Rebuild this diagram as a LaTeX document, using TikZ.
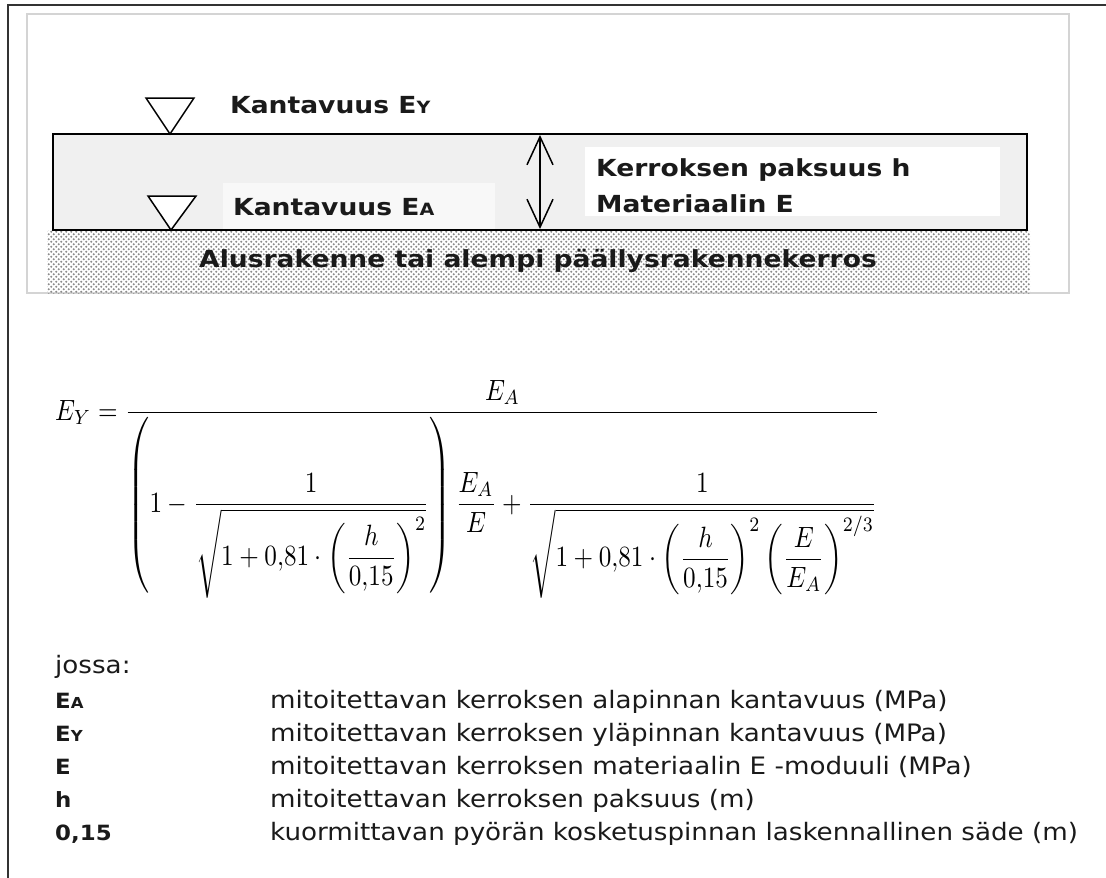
\documentclass[tikz,border=0pt]{standalone}
\usepackage{amsmath}
\usepackage{fontspec}
\newfontfamily\lblfont[FakeStretch=1.13]{DejaVu Sans}
\newfontfamily\legfont[FakeStretch=1.09]{DejaVu Sans}
\usetikzlibrary{patterns,arrows.meta}
\definecolor{layerfill}{HTML}{F0F0F0}
\definecolor{boxline}{HTML}{D4D4D4}
\definecolor{framecol}{HTML}{333333}
\definecolor{lblfill}{HTML}{F8F8F8}
\definecolor{txt}{HTML}{1A1A1A}
\pgfdeclarepatternformonly{gdots}{\pgfqpoint{-1pt}{-1pt}}{\pgfqpoint{6pt}{6pt}}{\pgfqpoint{5pt}{5pt}}{%
  \pgfpathcircle{\pgfqpoint{1.25pt}{1.25pt}}{1.1pt}%
  \pgfpathcircle{\pgfqpoint{3.75pt}{3.75pt}}{1.1pt}%
  \pgfusepath{fill}}
\tikzset{
  lbl/.style={font=\lblfont\bfseries\fontsize{23.5}{34}\selectfont, text=txt, inner sep=0pt, anchor=base west},
  leg/.style={font=\legfont\fontsize{24}{28}\selectfont, text=txt, inner sep=0pt, anchor=base west},
  sym/.style={font=\legfont\bfseries\fontsize{21}{24}\selectfont, text=txt, inner sep=0pt, anchor=base west},
  tri/.style={draw=black, line width=1.5pt, fill=white},
}
\newcommand{\smallsub}[1]{\scalebox{0.72}{#1}}
\begin{document}
\begin{tikzpicture}[x=1pt,y=-1pt]
\useasboundingbox (0,0) rectangle (1106,878);
% outer frame (left and top)
\draw[framecol, line width=2pt] (8,878) -- (8,5) -- (1106,5);
% inner light box
\draw[boxline, line width=2.5pt] (27,14) rectangle (1069,293);
% ground hatch
\fill[pattern=gdots, pattern color=gray!90] (47,230) rectangle (1030,293);
% layer
\draw[black, line width=2pt, fill=layerfill] (53,134) rectangle (1027,230);
% label boxes
\fill[lblfill] (223,183) rectangle (495,229);
\fill[white] (585,147) rectangle (1000,216);
% triangles
\draw[tri] (146,98) -- (194,98) -- (170,134) -- cycle;
\draw[tri] (148,196) -- (196,196) -- (171,230) -- cycle;
% thickness arrow
\coordinate (atop) at (540,135);
\coordinate (abot) at (540,229);
\draw[line width=1.5pt, {Straight Barb[length=28pt,width=26pt]}-{Straight Barb[length=28pt,width=26pt]}] (atop) -- (abot);
% labels
\node[lbl] (ey) at (230,113) {Kantavuus E\smallsub{Y}};
\node[lbl] (ea) at (233,215) {Kantavuus E\smallsub{A}};
\node[lbl] (kp) at (596,176) {Kerroksen paksuus h};
\node[lbl] (me) at (596,212) {Materiaalin E};
\node[lbl] (alus) at (199,267) {Alusrakenne tai alempi päällysrakennekerros};
% formula
\node[inner sep=0pt, anchor=north west] (formula) at (55,380) {\resizebox*{825pt}{218pt}{$\displaystyle
E_{Y} = \frac{E_{A}}{\left(1-\dfrac{1}{\sqrt{1+0{,}81\cdot\left(\dfrac{h}{0{,}15}\right)^{2}}}\right)\dfrac{E_{A}}{E}+\dfrac{1}{\sqrt{1+0{,}81\cdot\left(\dfrac{h}{0{,}15}\right)^{2}\left(\dfrac{E}{E_{A}}\right)^{2/3}}}}$}};
% legend
\node[leg] (jossa) at (55,673) {jossa:};
\node[sym] (s1) at (55,708) {E\smallsub{A}};
\node[leg] (d1) at (270,708) {mitoitettavan kerroksen alapinnan kantavuus (MPa)};
\node[sym] (s2) at (55,741) {E\smallsub{Y}};
\node[leg] (d2) at (270,741) {mitoitettavan kerroksen yläpinnan kantavuus (MPa)};
\node[sym] (s3) at (55,774) {E};
\node[leg] (d3) at (270,774) {mitoitettavan kerroksen materiaalin E -moduuli (MPa)};
\node[sym] (s4) at (55,807) {h};
\node[leg] (d4) at (270,807) {mitoitettavan kerroksen paksuus (m)};
\node[sym] (s5) at (55,840) {0,15};
\node[leg] (d5) at (270,840) {kuormittavan pyörän kosketuspinnan laskennallinen säde (m)};
\end{tikzpicture}
\end{document}
